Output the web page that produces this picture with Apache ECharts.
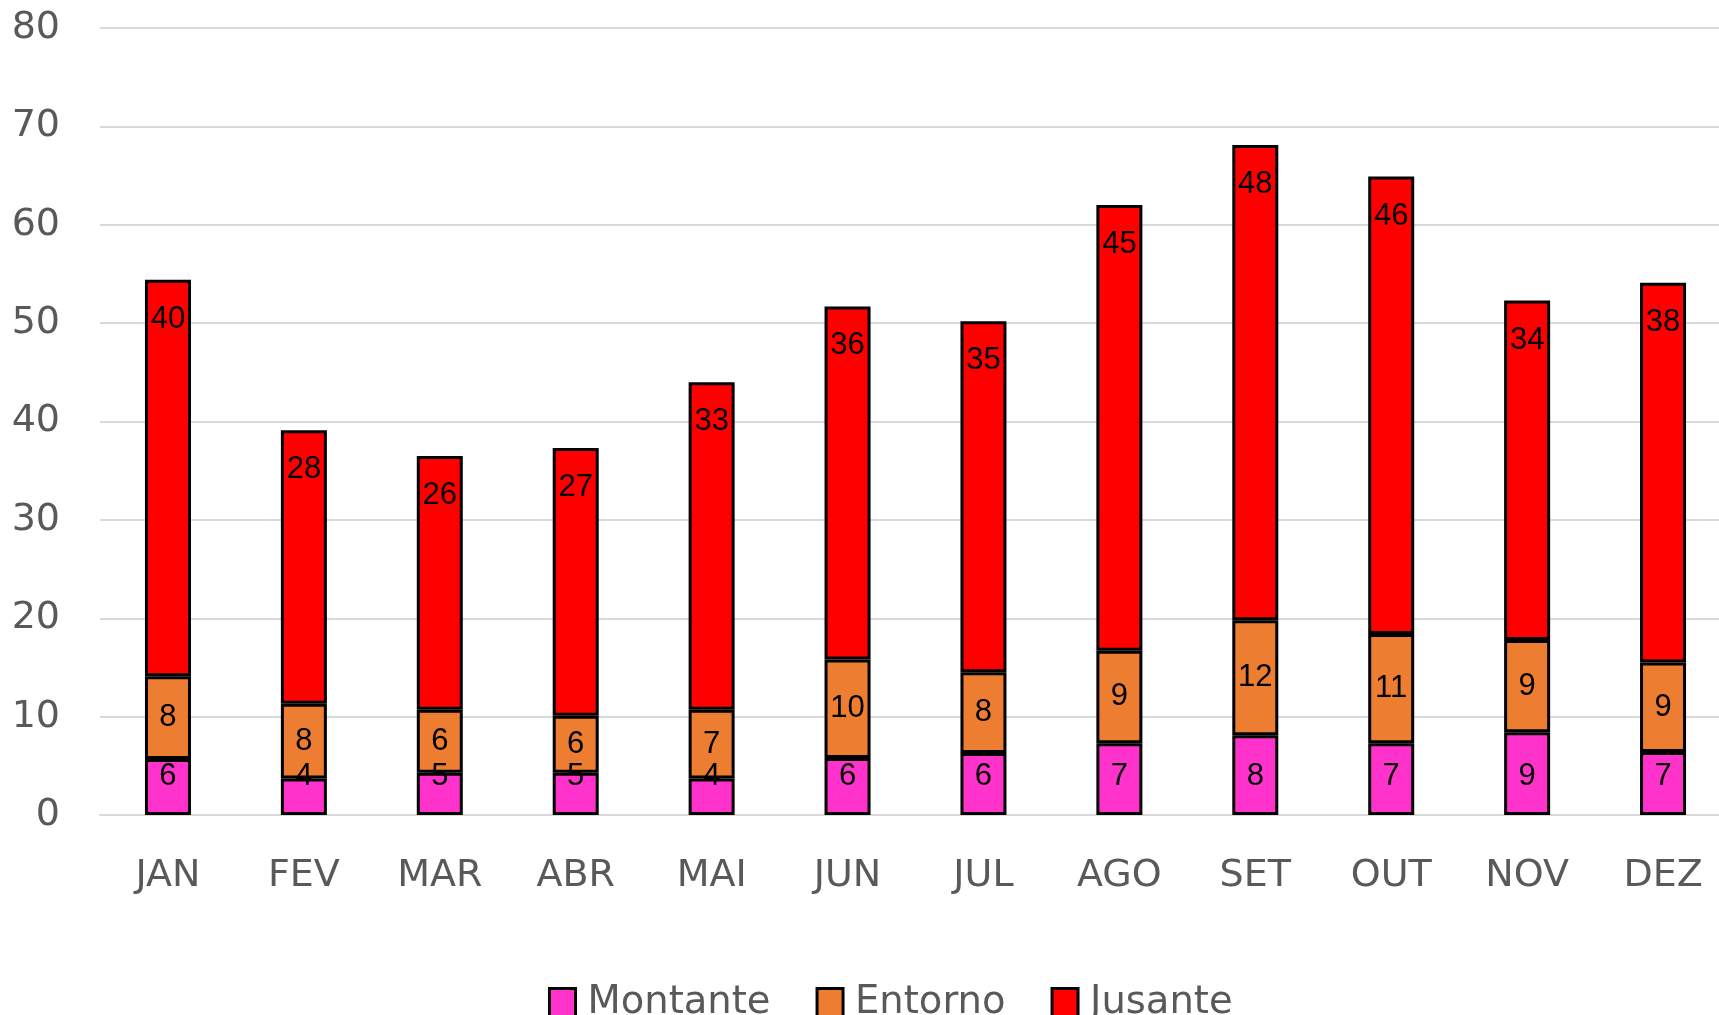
<!DOCTYPE html>
<html lang="pt">
<head>
<meta charset="UTF-8">
<title>Montante / Entorno / Jusante</title>
<script src="https://cdn.jsdelivr.net/npm/echarts@6/dist/echarts.min.js"></script>
<style>
  html, body { margin: 0; padding: 0; background: #fff; }
  #main { width: 1719px; height: 1015px; }
</style>
</head>
<body>
<div id="main"></div>
<script type="text/javascript">
// meses
const meses = ['JAN', 'FEV', 'MAR', 'ABR', 'MAI', 'JUN', 'JUL', 'AGO', 'SET', 'OUT', 'NOV', 'DEZ'];

// alturas das barras
const montante = [5.7, 3.7, 4.3, 4.3, 3.7, 5.8, 6.3, 7.3, 8.1, 7.3, 8.4, 6.4];
const entorno  = [8.4, 7.6, 6.4, 5.8, 7.0, 10.0, 8.2, 9.4, 11.7, 11.1, 9.4, 9.1];
const jusante  = [40.3, 27.8, 25.8, 27.2, 33.3, 35.9, 35.7, 45.3, 48.3, 46.5, 34.5, 38.6];

// rotulos mostrados dentro das barras
const rotMontante = ['6', '4', '5', '5', '4', '6', '6', '7', '8', '7', '9', '7'];
const rotEntorno  = ['8', '8', '6', '6', '7', '10', '8', '9', '12', '11', '9', '9'];
const rotJusante  = ['40', '28', '26', '27', '33', '36', '35', '45', '48', '46', '34', '38'];

const fonte = 'DejaVu Sans';
const cinza = '#595959';

function serie(nome, dados, rotulos, cor, pos, dist) {
    return {
        name: nome,
        type: 'bar',
        stack: 'total',
        barWidth: 46,
        data: dados,
        itemStyle: { color: cor, borderColor: '#000', borderWidth: 3 },
        label: {
            show: true,
            position: pos,
            distance: dist,
            color: '#000',
            fontFamily: 'Liberation Sans',
            fontSize: 31,
            formatter: (p) => rotulos[p.dataIndex]
        },
        emphasis: { disabled: true }
    };
}

var grafico = echarts.init(document.getElementById('main'));
var option = {
    animation: false,
    // a area do grafico passa um pouco da borda direita
    grid: { left: 100, width: 1631, top: 28, bottom: 200, outerBoundsMode: 'none', containLabel: false },
    legend: {
        left: 543,
        top: 978,
        icon: 'rect',
        itemWidth: 26,
        itemHeight: 28,
        itemGap: 45,
        textStyle: { fontFamily: fonte, fontSize: 38.5, color: cinza, padding: [0, 0, 0, 7] },
        data: [
            { name: 'Montante', itemStyle: { borderColor: '#000', borderWidth: 3 } },
            { name: 'Entorno', itemStyle: { borderColor: '#000', borderWidth: 3 } },
            { name: 'Jusante', itemStyle: { borderColor: '#000', borderWidth: 3 } }
        ]
    },
    xAxis: {
        type: 'category',
        data: meses,
        axisTick: { show: false },
        axisLine: { show: true, lineStyle: { color: '#d9d9d9', width: 2 } },
        axisLabel: { fontFamily: fonte, fontSize: 38, color: cinza, margin: 42 }
    },
    yAxis: {
        type: 'value',
        min: 0,
        max: 80,
        interval: 10,
        axisLine: { show: false },
        axisTick: { show: false },
        splitLine: { lineStyle: { color: '#d9d9d9', width: 2 } },
        axisLabel: { fontFamily: fonte, fontSize: 38, color: cinza, margin: 40 }
    },
    series: [
        serie('Montante', montante, rotMontante, '#ff33cc', 'insideBottom', 23),
        serie('Entorno', entorno, rotEntorno, '#ed7d31', 'inside', 0),
        serie('Jusante', jusante, rotJusante, '#ff0000', 'insideTop', 24)
    ]
};
grafico.setOption(option);
</script>
</body>
</html>
